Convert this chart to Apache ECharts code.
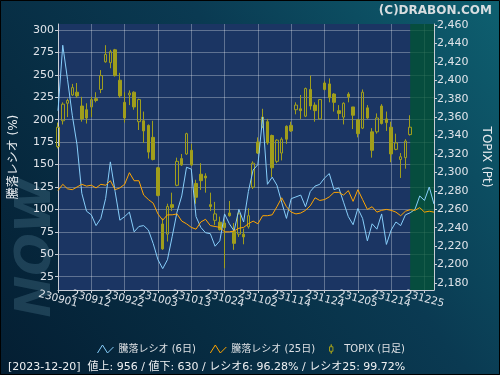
<!DOCTYPE html>
<html><head><meta charset="utf-8">
<script src="https://cdn.jsdelivr.net/npm/echarts@6/dist/echarts.min.js"></script>
<style>html,body{margin:0;padding:0;background:#000}#c{width:500px;height:375px}</style>
</head><body><div id="c"></div><script>
const dates = ['230901','230904','230905','230906','230907','230908','230911','230912','230913','230914','230915','230919','230920','230921','230922','230925','230926','230927','230928','230929',
'231002','231003','231004','231005','231006','231010','231011','231012','231013','231016','231017','231018','231019','231020','231023','231024','231025','231026','231027','231030','231031',
'231101','231102','231106','231107','231108','231109','231110','231113','231114','231115','231116','231117','231120','231121','231122','231124','231127','231128','231129','231130',
'231201','231204','231205','231206','231207','231208','231211','231212','231213','231214','231215','231218','231219','231220','231221','231222','231225','231226','231227'];
const ratio6 = [210,283,245,205,172,118,98,94,82,90, 112,153,120,88,92,97,75,81,82,77, 62,44,34,44,70,97,115,147,145,92, 80,74,73,59,65,95,84,76,100,86, 120,144,150,203,128,136,127,108,90,112, 114,116,103,120,126,128,135,140,122,124, 108,92,83,101,90,65,84,78,95,61, 77,86,82,94,96.28,100,115,110,125,106];
const ratio25 = [121,128,123,122,125,128,126,127,124,128, 127,132,122,124,128,141,132,132,116,111, 107,95,88,94,94,95,87,84,80,78, 86,89,82,81,80,75,75,76,79,80, 84,87,84,93,93,94,103,113,103,97, 95,96,99,104,113,110,111,114,119,119, 116,121,109,122,111,100,103,97,99,100, 99,97,93,98,99.72,99,102,97,98,97];
const topixOpen = [2328,2356,2375,2384,2387,2372,2368,2371,2380,2390, 2420,2419,2433,2400,2376,2384,2387,2355,2356,2351, 2338,2305,2244,2233,2265,2286,2315,2320,2324,2288, 2298,2296,2265,2248,2246,2245,2256,2236,2233,2233, 2241,2284,2333,2350,2355,2340,2312,2321,2350,2351, 2368,2369,2361,2390,2373,2358,2397,2396,2385,2367, 2360,2385,2371,2357,2348,2370,2344,2344,2372,2358, 2349,2325,2314,2316,2341];
const topixClose = [2349,2374,2378,2392,2383,2358,2359,2379,2378,2405, 2428,2431,2405,2383,2359,2386,2371,2379,2345,2322, 2314,2275,2217,2263,2262,2312,2308,2342,2308,2273, 2291,2294,2263,2255,2238,2240,2253,2223,2255,2230, 2253,2310,2321,2360,2332,2305,2335,2336,2336,2345, 2373,2367,2391,2372,2367,2379,2390,2381,2376,2364, 2375,2382,2362,2342,2387,2359,2324,2359,2353,2354, 2320,2332,2317,2334,2349];
const topixLow = [2326,2352,2360,2383,2381,2355,2353,2360,2376,2386, 2419,2413,2404,2381,2354,2373,2368,2346,2332,2315, 2313,2274,2216,2225,2258,2285,2307,2319,2307,2266, 2281,2278,2258,2243,2237,2196,2252,2216,2230,2222, 2239,2282,2320,2348,2330,2295,2310,2313,2331,2344, 2363,2358,2360,2368,2355,2358,2389,2376,2366,2357, 2352,2376,2347,2338,2347,2358,2316,2342,2352,2345, 2311,2324,2294,2304,2340];
const topixHigh = [2354,2376,2380,2396,2397,2382,2375,2382,2387,2411, 2438,2433,2434,2408,2387,2389,2388,2380,2366,2352, 2356,2306,2250,2266,2278,2316,2320,2343,2331,2292, 2310,2299,2278,2268,2252,2248,2269,2245,2257,2239, 2261,2312,2338,2369,2358,2341,2336,2338,2351,2355, 2376,2384,2392,2405,2376,2379,2399,2402,2386,2373, 2376,2387,2371,2358,2390,2373,2348,2364,2374,2366, 2355,2342,2321,2336,2362];
const leftTicks = [25,50,75,100,125,150,175,200,225,250,275,300];
const rightTicks = [2180,2200,2220,2240,2260,2280,2300,2320,2340,2360,2380,2400,2420,2440,2460];
const labelStep = 7;
const latestStart = '231220', latestEnd = '231227';
const seriesNames = ['騰落レシオ (6日)','騰落レシオ (25日)','TOPIX (日足)'];
const footerText = '[2023-12-20]  値上: 956 / 値下: 630 / レシオ6: 96.28% / レシオ25: 99.72%';

const candles = dates.map((d,i)=> i < topixOpen.length ? [topixOpen[i],topixClose[i],topixLow[i],topixHigh[i]] : '-');
const FONT = 'DejaVu Sans, Noto Sans CJK JP, sans-serif';
const gridLine = {lineStyle:{color:'rgba(255,255,255,0.3)',width:1}};
const axisCol = '#c8ccd4';
const olive = '#a09e1c';
const xLabel = {rotate:-15,align:'center',verticalAlign:'middle',margin:9,color:'#e0e4ea',fontSize:10.5,fontFamily:FONT,hideOverlap:false};

const chart = echarts.init(document.getElementById('c'), null, {renderer:'canvas'});
chart.setOption({
  animation:false,
  backgroundColor:{type:'linear',x:1,y:0,x2:0,y2:1,colorStops:[{offset:0,color:'#0e6070'},{offset:0.4,color:'#0a3a52'},{offset:1,color:'#041e32'}]},
  textStyle:{fontFamily:FONT},
  title:[
    {text:'(C)DRABON.COM',right:3,top:0,textStyle:{color:'#d8dde0',fontSize:12,fontWeight:'bold',fontFamily:FONT}},
    {text:footerText,left:3,top:357,textStyle:{color:'#eef0f2',fontSize:11,fontWeight:'normal',fontFamily:FONT}}
  ],
  graphic:[
    {type:'text',left:12,top:178,rotation:Math.PI/2,style:{text:'NOW',fill:'rgba(120,170,190,0.22)',font:'italic bold 50px DejaVu Sans'}},
    {type:'rect',shape:{x:0.5,y:0.5,width:499,height:374},style:{fill:'none',stroke:'#000',lineWidth:1},silent:true}
  ],
  legend:{
    left:'center', top:337, itemWidth:16, itemHeight:9, itemGap:12,
    textStyle:{color:'#dde0e4',fontSize:10,fontFamily:FONT},
    data:[
      {name:seriesNames[0],icon:'path://M0,9L5,1L10,9L16,3',itemStyle:{color:'none',borderColor:'#87cefa',borderWidth:1},lineStyle:{opacity:0}},
      {name:seriesNames[1],icon:'path://M0,9L5,1L10,9L16,3',itemStyle:{color:'none',borderColor:'#ffa500',borderWidth:1},lineStyle:{opacity:0}},
      {name:seriesNames[2],icon:'path://M4,0L4,4L1,4L1,12L4,12L4,16L4,12L7,12L7,4L4,4Z',itemStyle:{color:'none',borderColor:olive,borderWidth:1}}
    ]
  },
  grid:{left:57.5,right:63.3,top:24,bottom:85,show:true,backgroundColor:'#1b3563',borderWidth:0,containLabel:false},
  xAxis:[{
    type:'category', data:dates, boundaryGap:false, position:'bottom',
    axisLine:{lineStyle:{color:axisCol}},
    axisTick:{interval:labelStep-1,length:3,lineStyle:{color:axisCol}},
    axisLabel:{...xLabel,interval:(i)=>i%(2*labelStep)===0},
    splitLine:{show:true,interval:labelStep-1,...gridLine}
  },{
    type:'category', data:dates, boundaryGap:false, position:'bottom', offset:0,
    axisLine:{show:false}, axisTick:{show:false}, splitLine:{show:false},
    axisLabel:{...xLabel,interval:(i)=>i%(2*labelStep)===labelStep}
  }],
  yAxis:[
    {type:'value',min:10.2,max:306.7,position:'left',
     name:'騰落レシオ (%)',nameLocation:'middle',nameRotate:90,nameGap:38,nameTextStyle:{color:'#e8ecf0',fontSize:12,fontFamily:FONT},
     axisLine:{show:true,lineStyle:{color:axisCol}},
     axisTick:{show:true,length:3,customValues:leftTicks,lineStyle:{color:axisCol}},
     axisLabel:{customValues:leftTicks,color:'#e0e4ea',fontSize:11,margin:4,fontFamily:FONT},
     splitLine:{show:true,...gridLine}},
    {type:'value',min:2172.4,max:2461,position:'right',
     name:'TOPIX (Pt)',nameLocation:'middle',nameRotate:-90,nameGap:46,nameTextStyle:{color:'#e8ecf0',fontSize:12,fontFamily:FONT},
     axisLine:{show:true,lineStyle:{color:axisCol}},
     axisTick:{show:true,length:3,customValues:rightTicks,lineStyle:{color:axisCol}},
     axisLabel:{customValues:rightTicks,color:'#e0e4ea',fontSize:11,margin:3,fontFamily:FONT,
       formatter:v=>v.toLocaleString('en-US')},
     splitLine:{show:false}}
  ],
  series:[
    {name:seriesNames[0],type:'line',data:ratio6,yAxisIndex:0,symbol:'none',z:4,
     lineStyle:{color:'#87cefa',width:1},itemStyle:{color:'#87cefa'},
     markArea:{silent:true,itemStyle:{color:'rgba(0,85,50,0.75)'},data:[[{xAxis:latestStart},{xAxis:latestEnd}]]}},
    {name:seriesNames[1],type:'line',data:ratio25,yAxisIndex:0,symbol:'none',z:4,
     lineStyle:{color:'#ffa500',width:1},itemStyle:{color:'#ffa500'}},
    {name:seriesNames[2],type:'candlestick',data:candles,yAxisIndex:1,barWidth:3,z:3,
     itemStyle:{color:'rgba(0,0,0,0)',color0:olive,borderColor:olive,borderColor0:olive,borderWidth:1}}
  ]
});
</script></body></html>
